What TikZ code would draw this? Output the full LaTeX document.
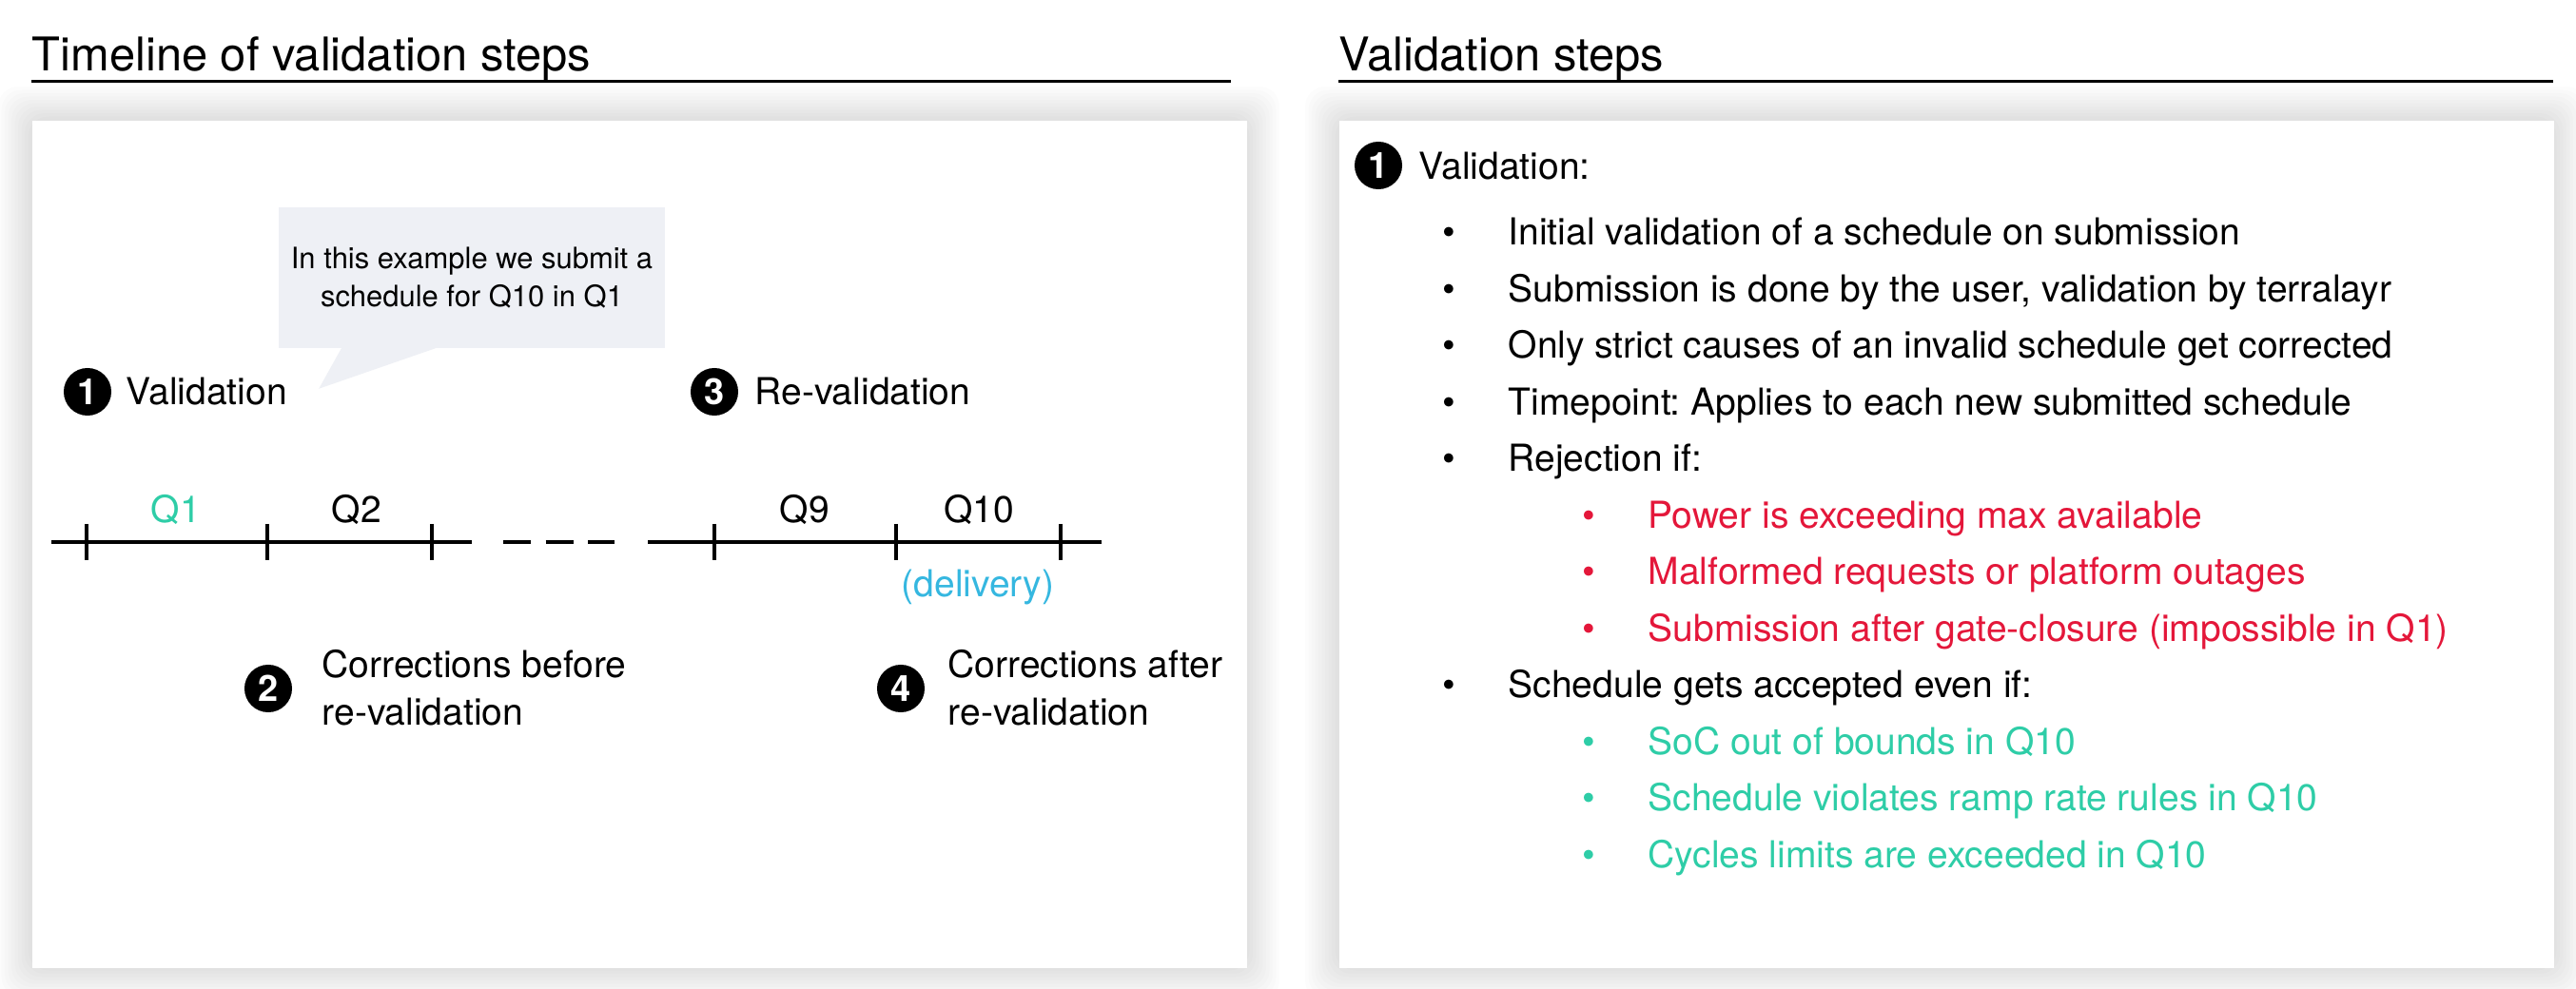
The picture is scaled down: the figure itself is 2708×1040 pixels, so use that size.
\documentclass[tikz,border=0pt]{standalone}
\usepackage{fontspec}
\setmainfont{TeX Gyre Heros}
\usetikzlibrary{calc}
\usetikzlibrary{positioning}
\definecolor{qgreen}{HTML}{2ECDA7}
\definecolor{qred}{HTML}{E4173A}
\definecolor{qblue}{HTML}{35B7E0}
\definecolor{notegray}{HTML}{EEF0F5}
\frenchspacing

\begin{document}
\begin{tikzpicture}[x=0.01cm,y=-0.01cm,
    body/.style={inner sep=0pt,font=\fontsize{11.1}{13}\selectfont},
    heading/.style={inner sep=0pt,anchor=base west,font=\fontsize{13.9}{16}\selectfont},
    num/.style={circle,fill=black,text=white,minimum size=0.5cm,inner sep=0pt,font=\bfseries\fontsize{10.8}{10.8}\selectfont},
    panel/.style={fill=white,anchor=north west,minimum width=12.77cm,minimum height=8.91cm,inner sep=0pt},
    note/.style={fill=notegray,minimum width=4.06cm,minimum height=1.48cm,align=center,inner sep=0pt,font=\fontsize{8.8}{11.4}\selectfont},
    axis/.style={line width=1.3pt},
    tick/.style={line width=0.9pt},
    rule/.style={line width=0.85pt}]
      \useasboundingbox (0,0) rectangle (2708,1040);
      % soft shadows behind the two panels
      \foreach \px in {33,1407} {
        \foreach \s in {1,...,10}
          \fill[black,opacity=0.011,rounded corners=6pt] (\px-3.5*\s,126-3.5*\s) rectangle (\px+1277+3.5*\s,1017+3.5*\s);
      }
      \node[panel] (tl) at (33,126) {};
      \node[panel] (vs) at (1407,126) {};

      \node[heading] (tltitle) at (33,75) {Timeline of validation steps};
      \draw[rule] (33,86) -- (1294,86);
      \node[heading] (vstitle) at (1407,75) {Validation steps};
      \draw[rule] (1407,86) -- (2684,86);

      % timeline
      \node[num] (n1) at (92,412) {1};
      \node[body,anchor=base west] (v1) at (132,426) {Validation};
      \node[num] (n3) at (751,412) {3};
      \node[body,anchor=base west] (v3) at (793,426) {Re-validation};

      \node[note] (note) at (496,292) {In this example we submit a\\schedule for Q10 in Q1};
      \fill[notegray] ($(note.south west)+(67,-1)$) -- ($(note.south west)+(43,42)$) -- ($(note.south west)+(167,-1)$) -- cycle;

      \foreach \x [count=\i] in {91,281,454,751,942,1115} {
        \coordinate (t\i) at (\x,570);
        \draw[tick] ($(t\i)+(0,-19)$) -- ($(t\i)+(0,19)$);
      }
      \coordinate (a1) at (54,570);
      \coordinate (a2) at (496,570);
      \coordinate (a3) at (529,570);
      \coordinate (a4) at (646,570);
      \coordinate (a5) at (681,570);
      \coordinate (a6) at (1158,570);
      \draw[axis] (a1) -- (a2);
      \draw[axis,dash pattern=on 0.29cm off 0.155cm] (a3) -- (a4);
      \draw[axis] (a5) -- (a6);

      \node[body,anchor=base,text=qgreen] (q1) at (185,550) {Q1};
      \node[body,anchor=base] (q2) at (375,550) {Q2};
      \node[body,anchor=base] (q9) at (846,550) {Q9};
      \node[body,anchor=base] (q10) at (1029,550) {Q10};
      \node[body,anchor=base,text=qblue] (dlv) at (1028,628) {(delivery)};

      \node[num] (n2) at (282,724) {2};
      \node[body,anchor=base west] (c2) at (338,712) {Corrections before};
      \node[body,anchor=base west] (c2b) at (338,762) {re-validation};
      \node[num] (n4) at (947,724) {4};
      \node[body,anchor=base west] (c4) at (996,712) {Corrections after};
      \node[body,anchor=base west] (c4b) at (996,762) {re-validation};

      % list of validation steps
      \node[num] (m1) at (1449,174) {1};
      \node[body,anchor=base west] (val) at (1491,189) {Validation:};
      \foreach \lvl/\col/\txt [count=\i] in {
          0/black/{Initial validation of a schedule on submission},
          0/black/{Submission is done by the user, validation by terralayr},
          0/black/{Only strict causes of an invalid schedule get corrected},
          0/black/{Timepoint: Applies to each new submitted schedule},
          0/black/{Rejection if:},
          1/qred/{Power is exceeding max available},
          1/qred/{Malformed requests or platform outages},
          1/qred/{Submission after gate-closure (impossible in Q1)},
          0/black/{Schedule gets accepted even if:},
          1/qgreen/{SoC out of bounds in Q10},
          1/qgreen/{Schedule violates ramp rate rules in Q10},
          1/qgreen/{Cycles limits are exceeded in Q10}} {
        \pgfmathsetmacro{\yy}{258+59.5*(\i-1)}
        \pgfmathsetmacro{\xb}{1523+147*\lvl}
        \node[body,anchor=base,text=\col] (b\i) at (\xb,\yy) {\textbullet};
        \node[body,anchor=base west,text=\col] (l\i) at (\xb+62,\yy) {\txt};
      }
    \end{tikzpicture}
\end{document}
